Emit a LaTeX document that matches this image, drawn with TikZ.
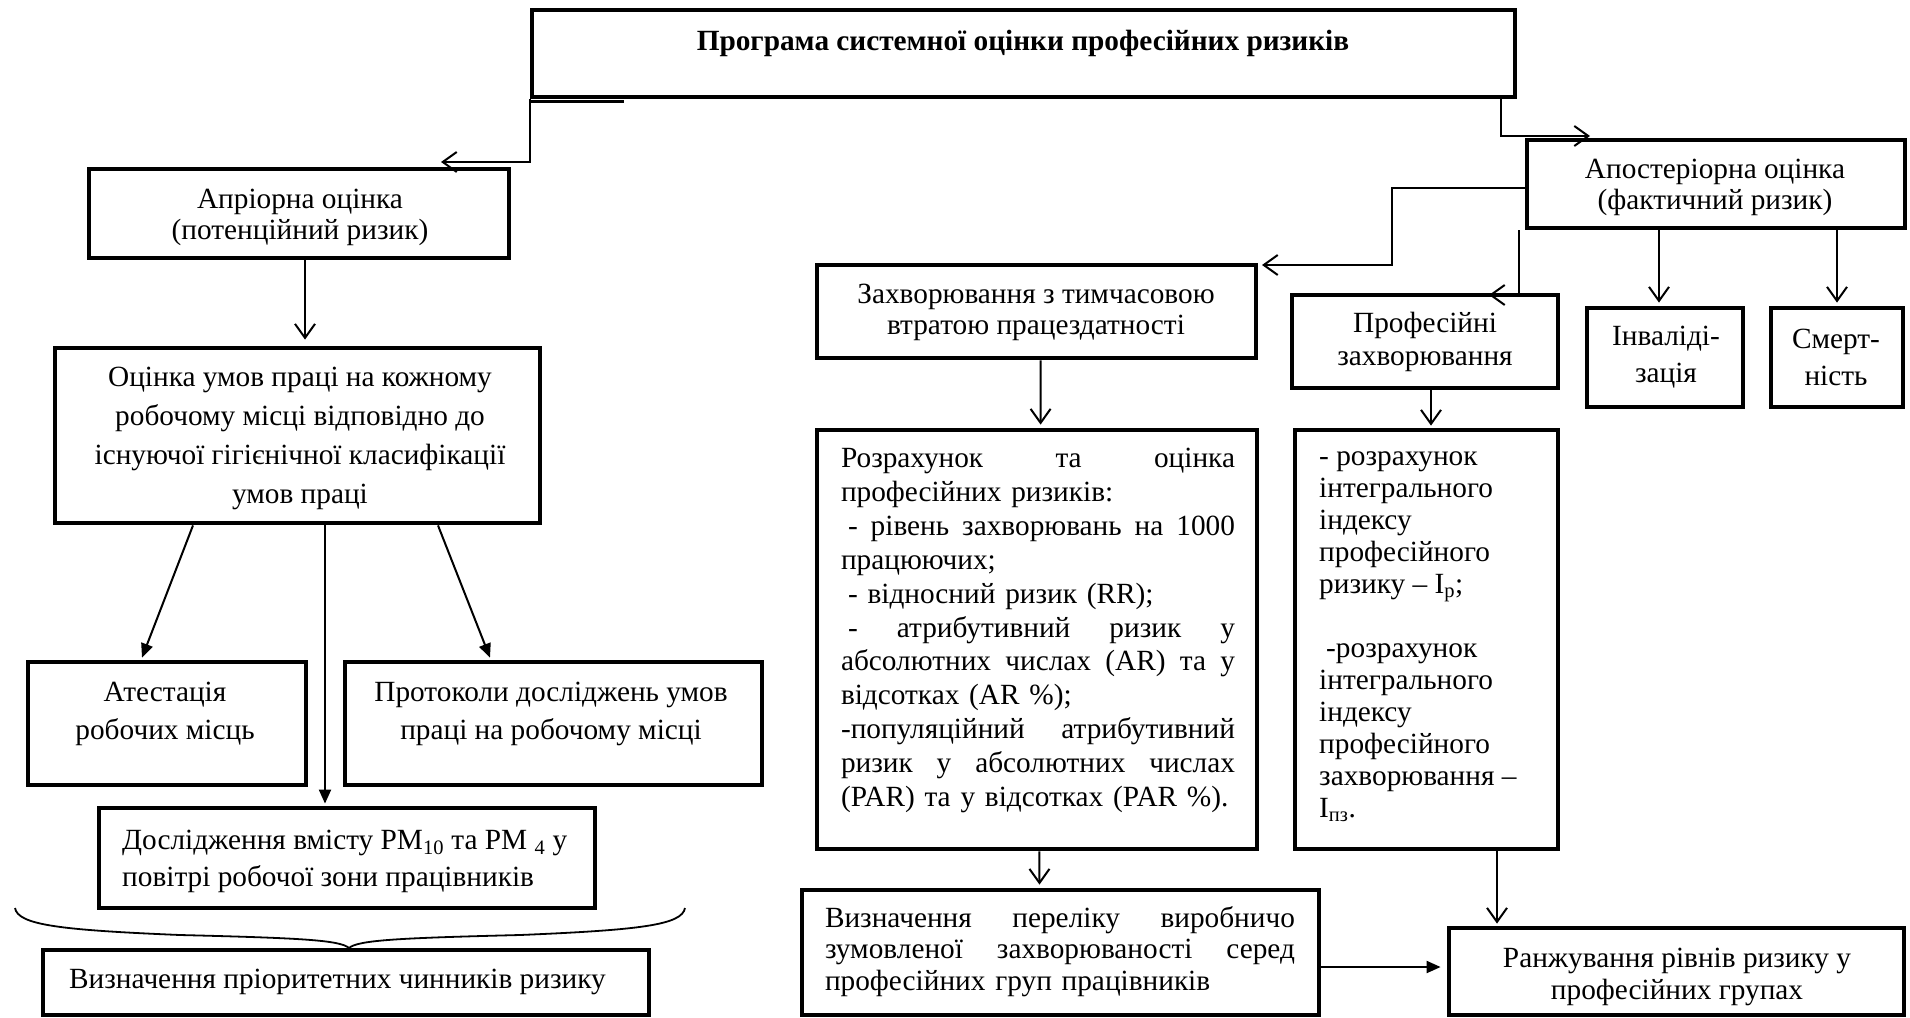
\documentclass[tikz,border=0pt]{standalone}
\usepackage{fontspec}
\setmainfont{LiberationSerif}[Extension=.ttf, UprightFont=*-Regular, BoldFont=*-Bold, ItalicFont=*-Italic, BoldItalicFont=*-BoldItalic]
\usetikzlibrary{arrows.meta,calc}
\newcommand\jline[2]{\makebox[#1][s]{\spaceskip=0pt\xspaceskip=0pt #2}}
\newcommand\fs[1]{\fontsize{29.3}{#1}\selectfont}
\begin{document}
\begin{tikzpicture}[x=1pt,y=-1pt]
\tikzset{
 box/.style={draw, line width=4.8pt, inner sep=0pt, rectangle},
 conn/.style={line width=2pt},
 oarr/.style={conn, -{Straight Barb[length=14pt,width=20pt,line width=2pt]}},
 farr/.style={conn, -{Triangle[length=14pt,width=12pt]}},
 txt/.style={inner sep=0pt, font=\fs{31}, align=center},
}
\useasboundingbox (0,0) rectangle (1910,1017);
% boxes
\node[box, minimum width=983pt, minimum height=87pt] (top) at (1023.5,53.5) {};
\node[box, minimum width=420pt, minimum height=89pt] (apr) at (299,213.5) {};
\node[box, minimum width=485pt, minimum height=175pt] (ocin) at (297.5,435.5) {};
\node[box, minimum width=278pt, minimum height=123pt] (atest) at (167,723.5) {};
\node[box, minimum width=417pt, minimum height=123pt] (prot) at (553.5,723.5) {};
\node[box, minimum width=496pt, minimum height=100pt] (pm) at (347,858) {};
\node[box, minimum width=606pt, minimum height=65pt] (prior) at (346,982.5) {};
\node[box, minimum width=378pt, minimum height=88pt] (apost) at (1716,184) {};
\node[box, minimum width=439pt, minimum height=93pt] (zahv) at (1036.5,311.5) {};
\node[box, minimum width=266pt, minimum height=93pt] (prof) at (1425,341.5) {};
\node[box, minimum width=156pt, minimum height=99pt] (inv) at (1665,357.5) {};
\node[box, minimum width=132pt, minimum height=99pt] (smert) at (1837,357.5) {};
\node[box, minimum width=440pt, minimum height=419pt] (rozr) at (1037,639.5) {};
\node[box, minimum width=263pt, minimum height=419pt] (integ) at (1426.5,639.5) {};
\node[box, minimum width=517pt, minimum height=125pt] (perel) at (1060.5,952.5) {};
\node[box, minimum width=455pt, minimum height=87pt] (ranj) at (1676.5,971.5) {};
\draw[line width=3pt] ($(top.south west)+(0,2.5)$) -- ++(94,0);
% texts
\node[txt, font=\fs{31}\bfseries] (toptext) at (1023,43) {Програма системної оцінки професійних ризиків};
\node[txt] (aprtext) at (300,217.5) {Апріорна оцінка\\(потенційний ризик)};
\node[txt, font=\fs{39}] (ocintext) at (300,438.5) {Оцінка умов праці на кожному\\робочому місці відповідно до\\існуючої гігієнічної класифікації\\умов праці};
\node[txt, font=\fs{38}] (atesttext) at (165,714) {Атестація\\робочих місць};
\node[txt, font=\fs{38}] (prottext) at (551,714) {Протоколи досліджень умов\\праці на робочому місці};
\node[txt, font=\fs{37}, align=left, anchor=west] (pmtext) at (122,861.5) {Дослідження вмісту PM\textsubscript{10} та PM \textsubscript{4} у\\повітрі робочої зони працівників};
\node[txt, anchor=west] (priortext) at (69,982) {Визначення пріоритетних чинників ризику};
\node[txt] (aposttext) at (1715,187.5) {Апостеріорна оцінка\\(фактичний ризик)};
\node[txt] (zahvtext) at (1036,312.5) {Захворювання з тимчасовою\\втратою працездатності};
\node[txt, font=\fs{33}] (proftext) at (1425,341.5) {Професійні\\захворювання};
\node[txt, font=\fs{37}] (invtext) at (1666,357.5) {Інваліді-\\зація};
\node[txt, font=\fs{37}] (smerttext) at (1836,357.5) {Смерт-\\ність};
\node[txt, font=\fs{33.9}, align=left, text width=394pt] (rozrtext) at (1038,630.5) {\jline{394pt}{Розрахунок та оцінка}\\
професійних ризиків:\\
\jline{394pt}{\hspace*{7pt}- рівень захворювань на 1000}\\
працюючих;\\
\hspace*{7pt}- відносний ризик (RR);\\
\jline{394pt}{\hspace*{7pt}- атрибутивний ризик у}\\
\jline{394pt}{абсолютних числах (AR) та у}\\
відсотках (AR \%);\\
\jline{394pt}{-популяційний атрибутивний}\\
\jline{394pt}{ризик у абсолютних числах}\\
(PAR) та у відсотках (PAR \%).};
\node[txt, font=\fs{32}, align=left, anchor=west] (integtext) at (1319,637) {- розрахунок\\інтегрального\\індексу\\професійного\\ризику – I\textsubscript{р};\\[32pt]
\hspace*{7pt}-розрахунок\\інтегрального\\індексу\\професійного\\захворювання –\\I\textsubscript{пз}.};
\node[txt, font=\fs{31.5}, align=left, text width=470pt] (pereltext) at (1060,951.5) {\jline{470pt}{Визначення переліку виробничо}\\
\jline{470pt}{зумовленої захворюваності серед}\\
професійних груп працівників};
\node[txt, font=\fs{31.5}] (ranjtext) at (1677,977) {Ранжування рівнів ризику у\\професійних групах};
% free ends
\coordinate (aprin) at (441,162);
\coordinate (apostin) at (1590,136);
\coordinate (zahvin) at (1262,265);
\coordinate (profin) at (1489,295);
% connectors
\draw[oarr] (top.south west) |- (aprin);
\draw[oarr] ($(top.south east)+(-16,0)$) |- (apostin);
\draw[oarr] ($(apost.west)+(0,4)$) -| ($(zahvin)+(130,0)$) -- (zahvin);
\draw[oarr] ($(apost.south west)+(-6,0)$) |- (profin);
\draw[oarr] ($(inv.north |- apost.south)+(-6,0)$) -- ($(inv.north)+(-6,-3)$);
\draw[oarr] (smert.north |- apost.south) -- ($(smert.north)+(0,-3)$);
\draw[oarr] ($(apr.south)+(6,0)$) -- ($(ocin.north)+(7.5,-6)$);
\draw[farr] ($(ocin.south)+(-104.5,0)$) -- ($(atest.north)+(-25,-2)$);
\draw[farr] ($(ocin.south)+(27.5,0)$) -- ($(pm.north)+(-22,-2)$);
\draw[farr] ($(ocin.south)+(140.5,0)$) -- ($(prot.north)+(-63.5,-2)$);
\draw[oarr] ($(zahv.south)+(4,0)$) -- ($(rozr.north)+(3.6,-3)$);
\draw[oarr] ($(prof.south)+(6,0)$) -- ($(integ.north)+(4.5,-2)$);
\draw[oarr] ($(rozr.south)+(2.4,0)$) -- ($(perel.north)+(-21,-3)$);
\draw[oarr] ($(integ.south)+(70.5,0)$) -- ($(ranj.north)+(-179.5,-2)$);
\draw[farr] ($(perel.east)+(0,14.5)$) -- ($(ranj.west)+(-6,-4.5)$);
% brace
\draw[line width=1.8pt] (15,908) .. controls (18,925) and (60,930) .. (180,935) .. controls (300,938) and (340,940) .. (349,948) .. controls (358,940) and (400,938) .. (520,935) .. controls (640,930) and (682,925) .. (685,908);
\end{tikzpicture}
\end{document}
